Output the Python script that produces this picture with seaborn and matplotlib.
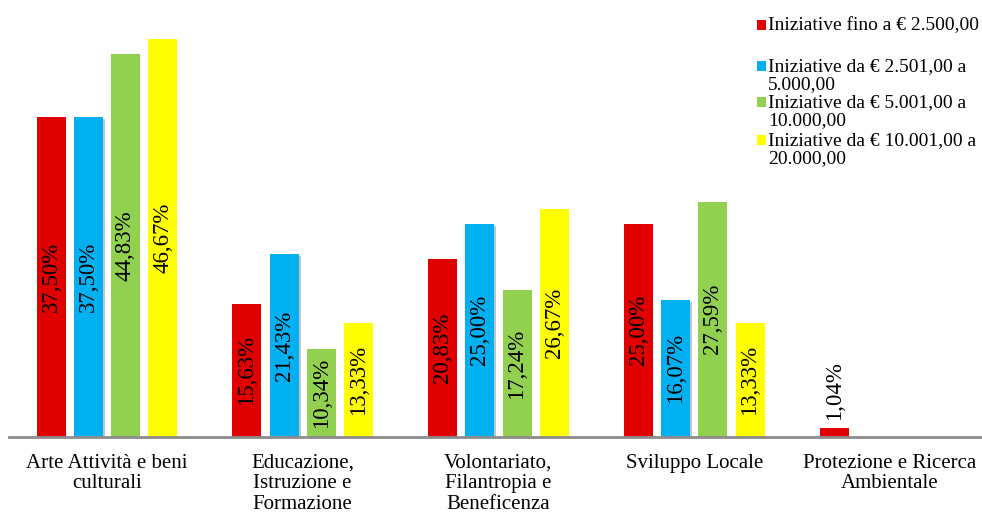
import matplotlib
matplotlib.use("Agg")
import matplotlib.pyplot as plt
import matplotlib.patheffects as pe
from matplotlib.patches import Rectangle
import pandas as pd
import seaborn as sns

categories = [
    "Arte Attività e beni\nculturali",
    "Educazione,\nIstruzione e\nFormazione",
    "Volontariato,\nFilantropia e\nBeneficenza",
    "Sviluppo Locale",
    "Protezione e Ricerca\nAmbientale",
]
series = [
    "Iniziative fino a € 2.500,00",
    "Iniziative da € 2.501,00 a\n5.000,00",
    "Iniziative da € 5.001,00 a\n10.000,00",
    "Iniziative da € 10.001,00 a\n20.000,00",
]
fino_2500 = [37.50, 15.63, 20.83, 25.00, 1.04]
da_2501_5000 = [37.50, 21.43, 25.00, 16.07, 0.0]
da_5001_10000 = [44.83, 10.34, 17.24, 27.59, 0.0]
da_10001_20000 = [46.67, 13.33, 26.67, 13.33, 0.0]
colors = ["#E00000", "#00B0F0", "#92D050", "#FFFF00"]

values = [fino_2500, da_2501_5000, da_5001_10000, da_10001_20000]
rows = []
for s, vals in zip(series, values):
    for c, v in zip(categories, vals):
        rows.append({"categoria": c, "serie": s, "valore": v})
df = pd.DataFrame(rows)

sns.set_theme(style="white")
plt.rcParams["font.family"] = ["Liberation Serif", "DejaVu Serif"]

fig = plt.figure(figsize=(9.82, 5.14), dpi=100)
ax = fig.add_axes([9 / 982, 77 / 514, 973 / 982, 437 / 514])

sns.barplot(data=df, x="categoria", y="valore", hue="serie",
            order=categories, hue_order=series, palette=colors,
            width=0.76, gap=0.22, linewidth=0, saturation=1,
            legend=False, ax=ax)

ax.set_xlim(-0.5, 4.47)
ax.set_ylim(0, 51.2)

# soft shadow on the blue series
for cont in ax.containers[1:2]:
    for bar in cont:
        bar.set_path_effects([pe.SimplePatchShadow(offset=(1.5, -1.5), alpha=0.3,
                                                   shadow_rgbFace="#404040"),
                              pe.Normal()])

# value labels, rotated inside the bars
for cont in ax.containers:
    for bar in cont:
        h = bar.get_height()
        if h <= 0:
            continue
        txt = f"{h:.2f}".replace(".", ",") + "%"
        xc = bar.get_x() + bar.get_width() / 2
        if h < 8:
            ax.text(xc, h + 0.9, txt, rotation=90, ha="center", va="bottom",
                    fontsize=16.5, color="black")
        else:
            ax.text(xc, h / 2, txt, rotation=90, ha="center", va="center",
                    fontsize=16.5, color="black")

for side in ["left", "right", "top"]:
    ax.spines[side].set_visible(False)
ax.spines["bottom"].set_color("#8C8C8C")
ax.spines["bottom"].set_linewidth(2)
ax.set_yticks([])
ax.set_xlabel("")
ax.set_ylabel("")
ax.tick_params(axis="x", length=0, pad=12, labelsize=15, colors="black")
for lbl in ax.get_xticklabels():
    lbl.set_linespacing(1.12)
ax.set_facecolor("white")

# legend drawn at the top right
legend_y = [25, 66, 102, 140]
for s, c, y in zip(series, colors, legend_y):
    fig.patches.append(Rectangle((757 / 982, 1 - (y + 4.5) / 514), 9 / 982, 9 / 514,
                                 transform=fig.transFigure, facecolor=c,
                                 edgecolor="none"))
    fig.text(768 / 982, 1 - (y - 8) / 514, s, ha="left", va="top",
             fontsize=14, color="black", linespacing=1.1)

fig.savefig("out.png", dpi=100, facecolor="white")
